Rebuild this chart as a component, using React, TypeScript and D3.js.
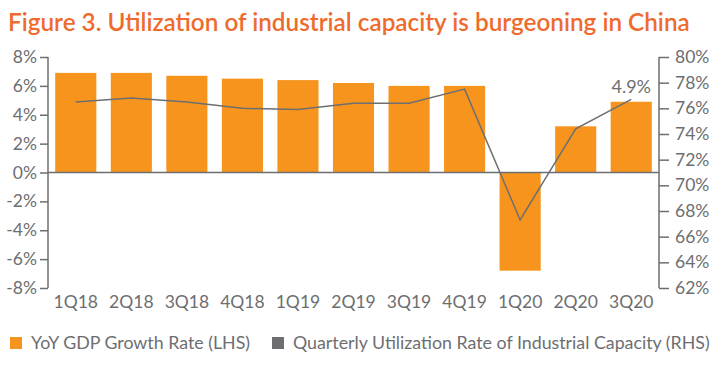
import * as d3 from 'd3';
import React, { useEffect, useRef } from "react";

const quarters = ['1Q18', '2Q18', '3Q18', '4Q18', '1Q19', '2Q19', '3Q19', '4Q19', '1Q20', '2Q20', '3Q20'];
const gdpGrowth = [6.9, 6.9, 6.7, 6.5, 6.4, 6.2, 6.0, 6.0, -6.8, 3.2, 4.9];
const utilization = [76.5, 76.8, 76.5, 76.0, 75.9, 76.4, 76.4, 77.5, 67.3, 74.4, 76.7];
const leftTicks = [-8, -6, -4, -2, 0, 2, 4, 6, 8];
const rightTicks = [62, 64, 66, 68, 70, 72, 74, 76, 78, 80];
const legendLabels = ['YoY GDP Growth Rate (LHS)', 'Quarterly Utilization Rate of Industrial Capacity (RHS)'];

const ORANGE = '#f7941d';
const GREY = '#6d6e71';
const FONT = 'Lato, "Open Sans", sans-serif';

export default function App() {
  const svgRef = useRef<SVGSVGElement>(null);
  const width = 728;
  const height = 370;
  const left = 48, right = 659, top = 57, bottom = 288;

  useEffect(() => {
    const svg = d3.select(svgRef.current);
    svg.selectAll('*').remove();

    const x = d3.scaleBand().domain(quarters).range([left, right]).paddingInner(0.26).paddingOuter(0.13);
    const yL = d3.scaleLinear().domain([-8, 8]).range([bottom, top]);
    const yR = d3.scaleLinear().domain([62, 80]).range([bottom, top]);

    svg.append('text')
      .attr('x', 8).attr('y', 31)
      .attr('fill', '#ef6b2d')
      .attr('font-family', FONT)
      .attr('font-size', 24.3)
      .attr('font-weight', 600)
      .text('Figure 3. Utilization of industrial capacity is burgeoning in China');

    // bars
    svg.append('g').selectAll('rect').data(gdpGrowth).enter().append('rect')
      .attr('x', (d, i) => x(quarters[i]) as number)
      .attr('width', x.bandwidth())
      .attr('y', d => yL(Math.max(0, d)))
      .attr('height', d => Math.abs(yL(d) - yL(0)))
      .attr('fill', ORANGE);

    // axes
    const leftAxis = svg.append('g').attr('transform', `translate(${left},0)`)
      .call(d3.axisLeft(yL).tickValues(leftTicks).tickSize(8).tickPadding(3).tickFormat(d => `${d}%`));
    const rightAxis = svg.append('g').attr('transform', `translate(${right},0)`)
      .call(d3.axisRight(yR).tickValues(rightTicks).tickSize(10).tickPadding(6).tickFormat(d => `${d}%`));
    [leftAxis, rightAxis].forEach(ax => {
      ax.select('.domain').remove();
      ax.selectAll('.tick line').attr('stroke', GREY).attr('stroke-width', 1.5);
      ax.selectAll('.tick text').attr('fill', GREY).attr('font-family', FONT).attr('font-size', 17.5);
    });
    svg.append('line').attr('x1', left).attr('x2', left).attr('y1', top).attr('y2', bottom)
      .attr('stroke', GREY).attr('stroke-width', 1.5);
    svg.append('line').attr('x1', right).attr('x2', right).attr('y1', top).attr('y2', bottom)
      .attr('stroke', GREY).attr('stroke-width', 1.5);

    // zero line
    svg.append('line').attr('x1', left).attr('x2', right).attr('y1', yL(0)).attr('y2', yL(0))
      .attr('stroke', GREY).attr('stroke-width', 1.5);

    // x labels
    svg.append('g').selectAll('text').data(quarters).enter().append('text')
      .attr('x', d => (x(d) as number) + x.bandwidth() / 2)
      .attr('y', 308)
      .attr('text-anchor', 'middle')
      .attr('fill', GREY)
      .attr('font-family', FONT)
      .attr('font-size', 17.5)
      .text(d => d);

    // utilization line
    const line = d3.line<number>()
      .x((d, i) => (x(quarters[i]) as number) + x.bandwidth() / 2)
      .y(d => yR(d));
    svg.append('path').datum(utilization)
      .attr('fill', 'none')
      .attr('stroke', GREY)
      .attr('stroke-width', 1.5)
      .attr('d', line);

    // last value label
    const last = quarters.length - 1;
    svg.append('text')
      .attr('x', (x(quarters[last]) as number) + x.bandwidth() / 2)
      .attr('y', yL(gdpGrowth[last]) - 9)
      .attr('text-anchor', 'middle')
      .attr('fill', GREY)
      .attr('font-family', FONT)
      .attr('font-size', 18)
      .text(`${gdpGrowth[last]}%`);

    // legend
    const legend = svg.append('g');
    const legendX = [10, 272];
    const legendColors = [ORANGE, GREY];
    legendLabels.forEach((label, i) => {
      legend.append('rect').attr('x', legendX[i]).attr('y', 337).attr('width', 12).attr('height', 12)
        .attr('fill', legendColors[i]);
      legend.append('text').attr('x', legendX[i] + 21).attr('y', 349)
        .attr('fill', GREY)
        .attr('font-family', FONT)
        .attr('font-size', 17.8)
        .text(label);
    });
  }, []);

  return (
    <svg ref={svgRef} width={width} height={height}
      style={{ position: 'absolute', left: 0, top: 0, background: '#fff' }} />
  );
}
